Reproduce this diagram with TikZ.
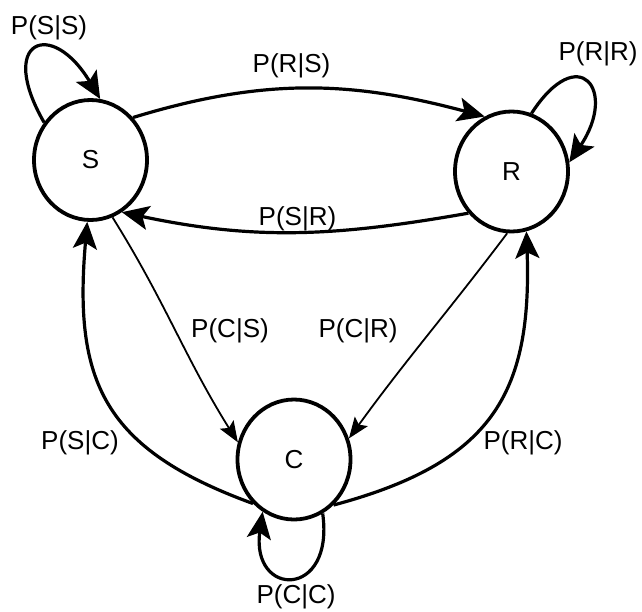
\documentclass[tikz,border=0pt]{standalone}
\usepackage{fontspec}
\setmainfont{Liberation Sans}
\usetikzlibrary{arrows.meta,shapes.geometric}
\begin{document}
\begin{tikzpicture}[x=1pt,y=-1pt,
  state/.style={draw, ellipse, line width=3.8pt, minimum width=113pt, minimum height=120pt, inner sep=0pt, font=\fontsize{26}{31}\selectfont},
  lbl/.style={font=\fontsize{26}{31}\selectfont, inner sep=0pt},
  thickedge/.style={line width=3.2pt, -{Stealth[length=27pt,width=24pt,inset=6pt]}},
  thinedge/.style={line width=1.8pt, -{Stealth[length=21pt,width=16pt,inset=4pt]}}]
\useasboundingbox (0,0) rectangle (642,611);
\node[state] (S) at (90.5,160) {S};
\node[state] (R) at (511.5,171.5) {R};
\node[state] (C) at (294,459.5) {C};
% edges
\draw[thickedge] (S.45) to[out=17,in=165] (R.116);
\draw[thickedge] (R.224) to[out=190,in=-12] (S.301);
\draw[thinedge] (S.-69) to[out=-58,in=122] (C.163);
\draw[thinedge] (R.266) to[out=233,in=54] (C.21);
\draw[thickedge] (C.227) to[out=160,in=-95,looseness=1.25] (S.267);
\draw[thickedge] (C.-49) to[out=15,in=-88,looseness=1.25] (R.-76);
% self loops
\draw[thickedge] (S.141) to[out=120,in=121,looseness=4.0] (S.81);
\draw[thickedge] (R.71) to[out=57,in=56,looseness=3.6] (R.9);
\draw[thickedge] (C.-62) to[out=-82,in=-98,looseness=3.7] (C.-121);
% labels
\node[lbl] (lSS) at (49,28) {P(S|S)};
\node[lbl] (lRS) at (291.5,66) {P(R|S)};
\node[lbl] (lRR) at (598,54) {P(R|R)};
\node[lbl] (lSR) at (297.5,219) {P(S|R)};
\node[lbl] (lCS) at (230,331) {P(C|S)};
\node[lbl] (lCR) at (358,331) {P(C|R)};
\node[lbl] (lSC) at (80,443) {P(S|C)};
\node[lbl] (lRC) at (523,443) {P(R|C)};
\node[lbl] (lCC) at (296,597) {P(C|C)};
\end{tikzpicture}
\end{document}
